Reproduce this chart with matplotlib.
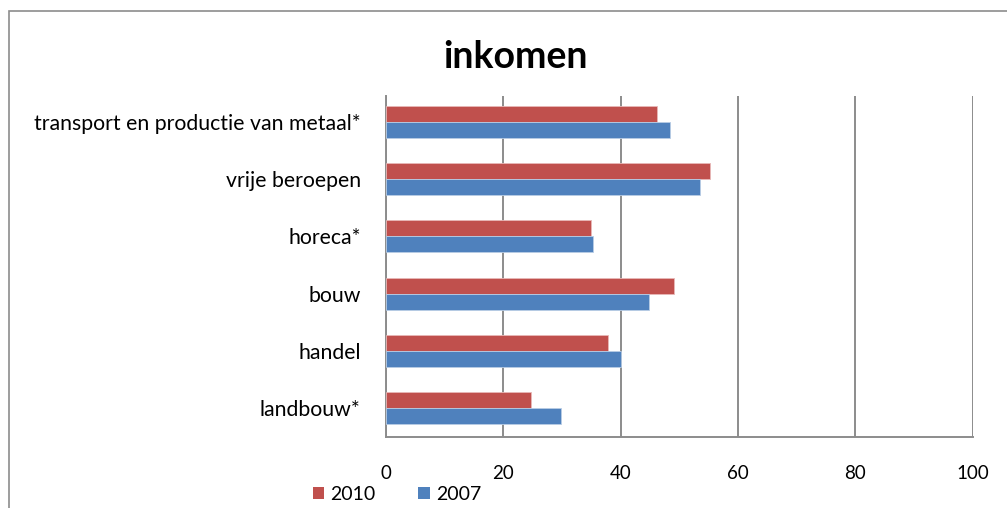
import numpy as np
import matplotlib.pyplot as plt
from matplotlib.patches import Rectangle, Patch

# ----- Data -----
categories = ["landbouw*", "handel", "bouw", "horeca*", "vrije beroepen",
              "transport en productie van metaal*"]
values_2010 = [24.8, 37.8, 49.1, 35.0, 55.3, 46.3]
values_2007 = [29.8, 40.0, 44.9, 35.3, 53.5, 48.5]
x_ticks = [0, 20, 40, 60, 80, 100]

plt.rcParams['font.family'] = ['Lato', 'DejaVu Sans']

red = "#c0504d"
blue = "#4f81bd"
grid_col = "#8c8c8c"

fig = plt.figure(figsize=(10.07, 5.08), dpi=100)
ax = fig.add_axes([0.383, 0.140, 0.583, 0.671])

# ----- Bars -----
y = np.arange(len(categories))
h = 0.28
ax.barh(y + h / 2, values_2010, height=h, color=red,
        edgecolor="#e8b8b7", linewidth=0.6, zorder=3)
ax.barh(y - h / 2, values_2007, height=h, color=blue,
        edgecolor="#b9cde5", linewidth=0.6, zorder=3)

ax.set_xlim(0, 100)
ax.set_ylim(-0.5, 5.45)
ax.set_xticks(x_ticks)
ax.set_yticks(y)
ax.set_yticklabels(categories, fontsize=15.3)
ax.tick_params(axis="x", length=0, pad=20, labelsize=13.5)
ax.tick_params(axis="y", length=0, pad=18)

ax.grid(axis="x", color=grid_col, linewidth=1.4, zorder=0)
for side in ["top", "right"]:
    ax.spines[side].set_visible(False)
for side in ["left", "bottom"]:
    ax.spines[side].set_color(grid_col)
    ax.spines[side].set_linewidth(1.4)

# ----- Title -----
fig.text(0.512, 0.888, "inkomen", ha="center", va="center",
         fontsize=27, fontweight="bold")

# ----- Legend -----
handles = [Patch(facecolor=red, label="2010"),
           Patch(facecolor=blue, label="2007")]
fig.legend(handles=handles, loc="center", bbox_to_anchor=(0.394, 0.027),
           ncol=2, frameon=False, fontsize=14, handlelength=0.6,
           handleheight=0.6, handletextpad=0.3, columnspacing=2.2)

# ----- Outer frame -----
fig.patches.append(Rectangle((0.009, -0.1), 1.2, 1.078,
                             transform=fig.transFigure, fill=False,
                             edgecolor="#8c8c8c", linewidth=1.2))

fig.savefig("out.png", dpi=100)
